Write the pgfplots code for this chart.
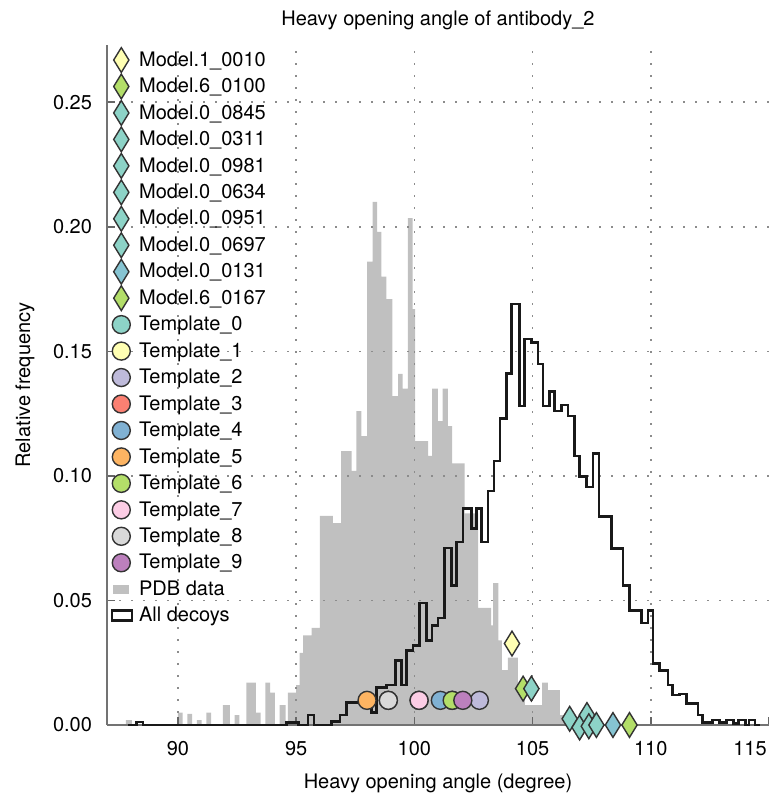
\documentclass[border=0pt]{standalone}
\usepackage{fontspec}
\setmainfont{TeX Gyre Heros}
\usepackage{pgfplots}
\pgfplotsset{compat=1.18}
\definecolor{cTeal}{HTML}{8DD3C7}
\definecolor{cTealB}{HTML}{86C4D2}
\definecolor{cYellow}{HTML}{FFFFB3}
\definecolor{cLav}{HTML}{BEBADA}
\definecolor{cRed}{HTML}{FB8072}
\definecolor{cBlue}{HTML}{80B1D3}
\definecolor{cOrange}{HTML}{FDB462}
\definecolor{cGreen}{HTML}{B3DE69}
\definecolor{cPink}{HTML}{FCCDE5}
\definecolor{cGray}{HTML}{D9D9D9}
\definecolor{cPurple}{HTML}{BC80BD}
\definecolor{pdbgray}{HTML}{C0C0C0}
\pgfplotsset{
  model/.style={only marks, mark=diamond*, mark size=6.2pt,
    mark options={xscale=0.82, fill=#1, draw=black!80, line width=0.7pt}},
  tmpl/.style={only marks, mark=*, mark size=4.5pt,
    mark options={fill=#1, draw=black!80, line width=0.7pt}},
}
\begin{document}
\begin{tikzpicture}
\begin{axis}[
  set layers=standard,
  scale only axis, width=331pt, height=340pt,
  at={(0,0)}, anchor=south west,
  xmin=87, xmax=115, ymin=0, ymax=0.273,
  clip=false,
  axis x line*=bottom, axis y line*=left,
  axis line style={-, black!55, line width=1.4pt},
  xtick={90,95,100,105,110},
  extra x ticks={115},
  extra x tick style={grid=none, xticklabel style={xshift=-9.5pt}},
  ytick={0,0.05,0.1,0.15,0.2,0.25},
  /pgf/number format/assume math mode=true,
  yticklabel style={/pgf/number format/fixed, /pgf/number format/fixed zerofill, /pgf/number format/precision=2, xshift=-4pt},
  xticklabel style={yshift=-4.5pt},
  tick align=inside, major tick length=4pt,
  tick style={black!60, line width=0.8pt},
  grid=major,
  major grid style={black!45, line width=0.8pt, dash pattern=on 1pt off 5pt},
  title={Heavy opening angle of antibody\_2},
  every axis title/.style={at={(0.5,1)}, anchor=center, yshift=12.5pt},
  xlabel={Heavy opening angle (degree)},
  every axis x label/.style={at={(0.5,0)}, anchor=center, yshift=-29pt},
  ylabel={Relative frequency},
  every axis y label/.style={at={(0,0.5)}, xshift=-41pt, rotate=90, anchor=center},
  legend cell align=left,
  legend style={at={(0,1)}, anchor=north west, xshift=1.85pt, yshift=-0.9pt,
    draw=none, fill=none, inner sep=0pt, outer sep=0pt, row sep=0pt,
    nodes={inner ysep=0pt, inner xsep=3pt, text height=9.7pt, text depth=3.53pt, anchor=west}},
  legend image code/.code={\draw[mark repeat=2,mark phase=2,#1] plot coordinates {(0pt,0pt) (6pt,0pt) (12pt,0pt)};},
]
% models
\addplot[model=cYellow] coordinates {(104.13,0.0327)}; \addlegendentry{Model.1\_0010}
\addplot[model=cGreen] coordinates {(104.6,0.0146)}; \addlegendentry{Model.6\_0100}
\addplot[model=cTeal] coordinates {(104.95,0.0146)}; \addlegendentry{Model.0\_0845}
\addplot[model=cTeal] coordinates {(106.57,0.0025)}; \addlegendentry{Model.0\_0311}
\addplot[model=cTeal] coordinates {(106.99,-0.001)}; \addlegendentry{Model.0\_0981}
\addplot[model=cTeal] coordinates {(107.3,0.004)}; \addlegendentry{Model.0\_0634}
\addplot[model=cTeal] coordinates {(107.38,-0.0005)}; \addlegendentry{Model.0\_0951}
\addplot[model=cTeal] coordinates {(107.7,0.0)}; \addlegendentry{Model.0\_0697}
\addplot[model=cTealB] coordinates {(108.4,0.0)}; \addlegendentry{Model.0\_0131}
\addplot[model=cGreen] coordinates {(109.1,0.0)}; \addlegendentry{Model.6\_0167}
% templates
\addplot[tmpl=cTeal] coordinates {(98.9,0.0099)}; \addlegendentry{Template\_0}
\addplot[tmpl=cYellow] coordinates {(101.6,0.0099)}; \addlegendentry{Template\_1}
\addplot[tmpl=cLav] coordinates {(102.75,0.0099)}; \addlegendentry{Template\_2}
\addplot[tmpl=cRed] coordinates {(100.2,0.0099)}; \addlegendentry{Template\_3}
\addplot[tmpl=cBlue] coordinates {(101.1,0.0099)}; \addlegendentry{Template\_4}
\addplot[tmpl=cOrange] coordinates {(98.0,0.0099)}; \addlegendentry{Template\_5}
\addplot[tmpl=cGreen] coordinates {(101.6,0.0099)}; \addlegendentry{Template\_6}
\addplot[tmpl=cPink] coordinates {(100.2,0.0099)}; \addlegendentry{Template\_7}
\addplot[tmpl=cGray] coordinates {(98.9,0.0099)}; \addlegendentry{Template\_8}
\addplot[tmpl=cPurple] coordinates {(102.05,0.0099)}; \addlegendentry{Template\_9}
% PDB data histogram
\addplot[on layer=axis background, const plot, fill=pdbgray, draw=none, mark=none,
  legend image code/.code={\fill[pdbgray] (2pt,-2.3pt) rectangle (10pt,2.3pt);}]
coordinates {
(87.8,0.002) (88.05,0) (90.0,0.005) (90.2,0) (90.4,0.0045) (90.6,0)
(90.8,0.002) (91.0,0) (91.2,0.005) (91.4,0) (91.9,0.008) (92.2,0)
(92.4,0.004) (92.6,0) (92.9,0.017) (93.3,0.005) (93.5,0) (93.7,0.017)
(93.9,0.013) (94.1,0) (94.3,0.008) (94.55,0) (94.65,0.013) (95.0,0.016)
(95.15,0.029) (95.3,0.036) (95.65,0.039) (96.0,0.084) (96.55,0.081)
(96.9,0.110) (97.35,0.102) (97.55,0.126) (97.76,0.116) (98.0,0.186)
(98.23,0.210) (98.42,0.198) (98.6,0.180) (98.82,0.171) (99.07,0.132)
(99.31,0.141) (99.5,0.135) (99.73,0.2035) (99.93,0.167) (100.03,0.114)
(100.58,0.108) (100.75,0.135) (101.0,0.122) (101.2,0.135) (101.42,0.120)
(101.6,0.105) (102.13,0.085) (102.7,0.047) (103.25,0.040) (103.33,0.057)
(103.55,0.034) (103.7,0.022) (103.96,0.027) (104.38,0.015) (104.67,0.008)
(105.4,0.017) (105.65,0.014) (106.15,0.004) (106.5,0.003) (107.5,0)
} \closedcycle; \addlegendentry{PDB data}
% All decoys
\addplot[on layer=pre main, const plot, draw=black!90, line width=1.3pt, mark=none,
  legend image code/.code={\draw[black!90, line width=1.2pt, fill=white] (1.3pt,-2.5pt) rectangle (11.3pt,2.5pt);}]
coordinates {
(87.9,0) (88.25,0.0012) (88.53,0) (94.6,0.001) (95.1,0) (95.5,0.004)
(95.75,0) (96.5,0.0015) (96.85,0.004) (97.13,0.009) (97.7,0.011)
(98.2,0.005) (98.4,0.015) (98.82,0.016) (99.2,0.026) (99.45,0.016)
(99.67,0.030) (99.95,0.032) (100.23,0.049) (100.51,0.034) (100.75,0.040)
(101.0,0.043) (101.28,0.071) (101.57,0.056) (101.78,0.0735) (102.06,0.087)
(102.41,0.079) (102.62,0.087) (102.84,0.0735) (103.12,0.094) (103.37,0.106)
(103.63,0.123) (103.89,0.141) (104.10,0.169) (104.45,0.128) (104.67,0.155)
(104.95,0.1535) (105.23,0.145) (105.44,0.128) (105.72,0.134) (105.93,0.126)
(106.22,0.1285) (106.5,0.124) (106.78,0.108) (106.99,0.0997) (107.27,0.0956)
(107.55,0.109) (107.81,0.0836) (108.33,0.0709) (108.82,0.056) (109.1,0.046)
(109.6,0.041) (109.88,0.046) (110.09,0.0246) (110.37,0.022) (110.72,0.016)
(110.93,0.012) (111.22,0.0125) (111.5,0.0086) (111.99,0.004) (112.2,0.001)
(112.6,0.002) (112.9,0.001) (113.2,0.002) (113.5,0.0005) (113.7,0.002)
(114.0,0) (114.15,0.002) (114.4,0) (114.6,0)
}; \addlegendentry{All decoys}
\end{axis}
\pgfresetboundingbox
\path[use as bounding box] (-53.5pt,-34pt) rectangle (331pt,362.5pt);
\end{tikzpicture}
\end{document}
